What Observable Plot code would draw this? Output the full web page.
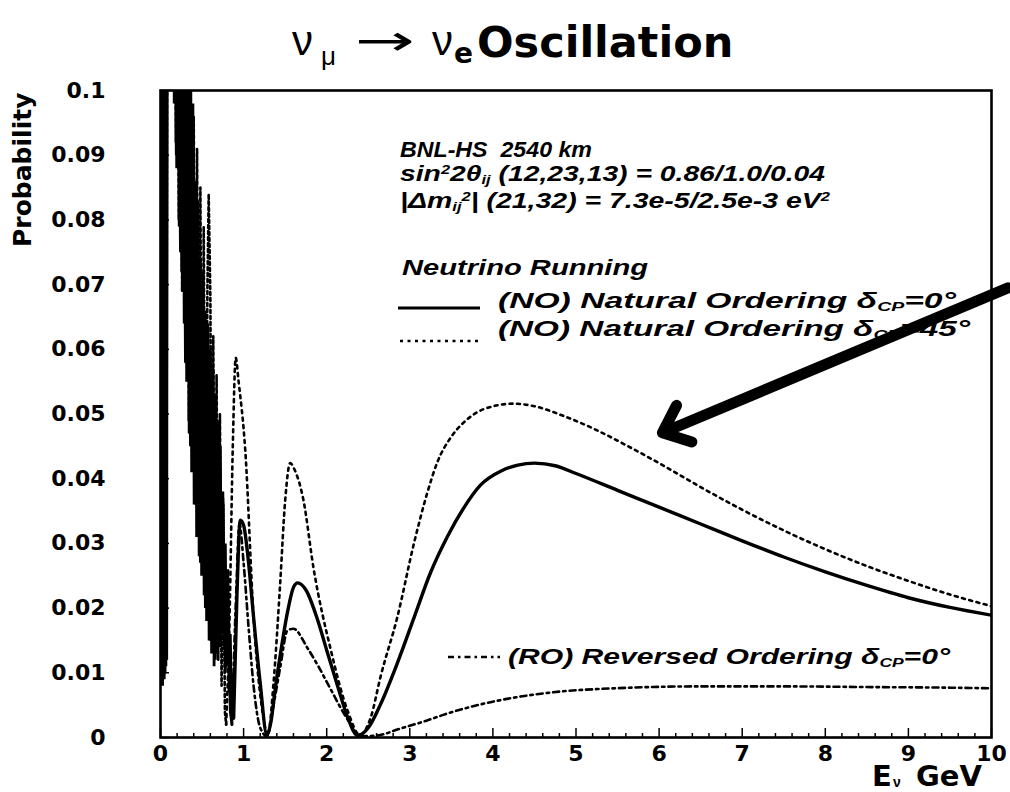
<!DOCTYPE html>
<html><head><meta charset="utf-8">
<script src="https://cdn.jsdelivr.net/npm/d3@7"></script>
<script src="https://cdn.jsdelivr.net/npm/@observablehq/plot@0.6"></script>
<style>
html,body{margin:0;padding:0;background:#fff;}
#wrap{position:relative;width:1010px;height:792px;overflow:hidden;background:#fff;}
#wrap svg{position:absolute;left:0;top:0;}
.t{position:absolute;white-space:nowrap;line-height:1;color:#000;}
.ann{font-family:"Liberation Sans";font-weight:bold;font-style:italic;font-size:22px;transform-origin:0 0;}
.sub{font-size:0.58em;position:relative;top:0.22em;}
.sup{font-size:0.58em;position:relative;top:-0.55em;}
</style></head>
<body><div id="wrap"></div>
<script>
// ---------- data (E in GeV, P probability) ----------
const xTicks = [0,1,2,3,4,5,6,7,8,9,10];
const xMinorTicks = [0.2,0.4,0.6,0.8,1.2,1.4,1.6,1.8,2.2,2.4,2.6,2.8,3.2,3.4,3.6,3.8,4.2,4.4,4.6,4.8,5.2,5.4,5.6,5.8,6.2,6.4,6.6,6.8,7.2,7.4,7.6,7.8,8.2,8.4,8.6,8.8,9.2,9.4,9.6,9.8];
const yTicks = [0,0.01,0.02,0.03,0.04,0.05,0.06,0.07,0.08,0.09,0.1];

// NO, delta_CP = 0 (solid) : fast low-energy oscillation, then smooth part
const no0Low = [[0.000,0.130],[0.005,0.008],[0.010,0.130],[0.015,0.008],[0.020,0.130],[0.025,0.008],[0.030,0.130],[0.035,0.009],[0.040,0.130],[0.045,0.009],[0.050,0.130],[0.055,0.010],[0.060,0.130],[0.065,0.011],[0.070,0.130],[0.075,0.012],[0.080,0.130],[0.120,0.160],[0.160,0.130],
[0.165,0.098],[0.180,0.130],[0.195,0.088],[0.210,0.130],[0.225,0.079],[0.240,0.130],[0.255,0.072],[0.270,0.130],[0.285,0.064],[0.300,0.130],[0.315,0.055],[0.330,0.130],[0.345,0.047],[0.360,0.130],[0.375,0.041],[0.390,0.098],[0.405,0.036],[0.420,0.086],[0.435,0.031],[0.450,0.080],[0.465,0.028],[0.480,0.074],[0.495,0.025],[0.510,0.069],[0.525,0.022],[0.540,0.066],[0.555,0.018],[0.570,0.063],[0.585,0.015],[0.600,0.060],[0.615,0.013],[0.630,0.057],[0.645,0.011],[0.660,0.053],[0.675,0.013],[0.690,0.049],[0.705,0.015],[0.720,0.045],[0.735,0.016],[0.750,0.037],[0.765,0.014],[0.780,0.030],[0.795,0.011],[0.810,0.022],[0.825,0.007],[0.840,0.016],[0.855,0.004],[0.870,0.010],[0.880,0.003]];
const no0High = [[0.880,0.003],[0.920,0.022],[0.960,0.0336],[1.000,0.0328],[1.060,0.027],[1.120,0.0186],[1.200,0.0084],[1.280,0.0004],[1.330,0.0025],[1.380,0.0075],[1.450,0.0135],[1.530,0.0195],[1.600,0.0232],[1.650,0.0239],[1.750,0.0228],[1.890,0.0182],[2.000,0.0135],[2.130,0.0080],[2.250,0.0032],[2.370,0.0003],[2.500,0.0015],[2.650,0.0052],[2.850,0.0115],[3.050,0.0185],[3.250,0.0255],[3.450,0.0310],[3.650,0.0355],[3.850,0.0390],[4.100,0.0412],[4.300,0.0421],[4.500,0.0424],[4.750,0.0420],[5.000,0.0408],[5.500,0.0382],[6.000,0.0356],[6.500,0.0330],[7.000,0.0304],[7.500,0.0279],[8.000,0.0256],[8.500,0.0235],[9.000,0.0216],[9.500,0.0201],[10.00,0.0189]];

// NO, delta_CP = 45 deg (dotted)
const no45Low = [[0.000,0.130],[0.010,0.010],[0.020,0.130],[0.030,0.011],[0.040,0.130],[0.050,0.012],[0.060,0.130],[0.070,0.013],[0.080,0.130],[0.120,0.160],[0.170,0.130],[0.185,0.092],[0.200,0.130],[0.220,0.080],[0.240,0.130],[0.260,0.069],[0.280,0.130],[0.300,0.058],[0.320,0.130],[0.340,0.049],[0.360,0.102],[0.380,0.043],[0.400,0.096],[0.420,0.038],[0.440,0.091],[0.460,0.033],[0.480,0.085],[0.500,0.028],[0.520,0.079],[0.540,0.024],[0.565,0.070],[0.580,0.084],[0.600,0.068],[0.615,0.030],[0.635,0.062],[0.655,0.020],[0.675,0.056],[0.695,0.012],[0.715,0.050],[0.735,0.008],[0.755,0.036],[0.775,0.004],[0.790,0.002]];
const no45High = [[0.790,0.002],[0.830,0.018],[0.870,0.045],[0.905,0.0587],[0.940,0.055],[1.020,0.0444],[1.120,0.0186],[1.240,0.0030],[1.290,0.0003],[1.360,0.0084],[1.440,0.0238],[1.500,0.0366],[1.560,0.0424],[1.620,0.0412],[1.720,0.0367],[1.840,0.0263],[2.050,0.0135],[2.250,0.0042],[2.400,0.0004],[2.530,0.0031],[2.650,0.0095],[2.850,0.0186],[3.050,0.0300],[3.210,0.0378],[3.330,0.0425],[3.500,0.0465],[3.650,0.0487],[3.900,0.0508],[4.250,0.0516],[4.500,0.0512],[4.850,0.0497],[5.200,0.0478],[5.600,0.0452],[6.000,0.0424],[6.500,0.0387],[7.000,0.0352],[7.500,0.0320],[8.000,0.0291],[8.500,0.0265],[9.000,0.0242],[9.500,0.0221],[10.00,0.0203]];

// RO, delta_CP = 0 (dash-dot)
const ro0Low = [[0.000,0.130],[0.010,0.009],[0.020,0.130],[0.030,0.010],[0.040,0.130],[0.050,0.011],[0.060,0.130],[0.070,0.012],[0.080,0.130],[0.120,0.160],[0.170,0.130],[0.190,0.090],[0.210,0.130],[0.240,0.075],[0.270,0.130],[0.300,0.058],[0.330,0.120],[0.360,0.045],[0.390,0.095],[0.420,0.036],[0.450,0.083],[0.480,0.027],[0.510,0.072],[0.540,0.020],[0.570,0.064],[0.600,0.015],[0.630,0.057],[0.660,0.012],[0.690,0.049],[0.720,0.014],[0.750,0.038],[0.780,0.010],[0.810,0.026],[0.840,0.004],[0.860,0.002]];
const ro0High = [[0.860,0.002],[0.910,0.022],[0.950,0.0330],[1.000,0.0270],[1.060,0.0170],[1.120,0.0080],[1.200,0.0015],[1.280,0.0002],[1.360,0.0050],[1.440,0.0108],[1.530,0.0166],[1.600,0.0168],[1.770,0.0138],[1.900,0.0110],[2.050,0.0074],[2.250,0.0028],[2.400,0.0002],[2.600,0.0003],[2.890,0.0014],[3.200,0.0026],[3.450,0.0037],[3.750,0.0048],[4.060,0.0057],[4.660,0.0069],[5.450,0.0076],[6.500,0.0079],[7.500,0.0079],[8.500,0.0078],[9.500,0.0077],[10.00,0.0076]];

// hand-drawn annotation arrow (data units)
const arrowAnnot = [{x1: 10.2, y1: 0.0695, x2: 6.04, y2: 0.0471}];

// texts
const annotationLines = [
  "BNL-HS&nbsp; 2540 km",
  "sin<span class='sup'>2</span>2θ<span class='sub'>ij</span> (12,23,13) = 0.86/1.0/0.04",
  "|Δm<span class='sub'>ij</span><span class='sup'>2</span>| (21,32) = 7.3e-5/2.5e-3 eV<span class='sup'>2</span>",
  "Neutrino Running"
];
const legendLabels = [
  "(NO) Natural Ordering δ<span class='sub'>CP</span>=0°",
  "(NO) Natural Ordering δ<span class='sub'>CP</span>=45°",
  "(RO) Reversed Ordering δ<span class='sub'>CP</span>=0°"
];

// ---------- styles ----------
const SOLID = {stroke: "black", strokeWidth: 3.4};
const DOTTED = {stroke: "black", strokeWidth: 2.6, strokeDasharray: "3,4.5"};
const DASHDOT = {stroke: "black", strokeWidth: 2.6, strokeDasharray: "6,4,2.5,4"};
const FAST = {strokeWidth: 2.8, strokeLinejoin: "miter"};

const pt = {x: d => d[0], y: d => d[1], clip: true};

const chart = Plot.plot({
  width: 1010, height: 792,
  marginLeft: 160, marginRight: 19, marginTop: 90, marginBottom: 55,
  style: {fontFamily: "DejaVu Sans", background: "transparent", color: "black"},
  x: {domain: [0, 10]},
  y: {domain: [0, 0.1]},
  marks: [
    Plot.axisX({ticks: xMinorTicks, tickSize: -4, tickFormat: () => "", label: null, strokeWidth: 1.5}),
    Plot.axisX({ticks: xTicks, tickSize: -9, tickPadding: 17, fontSize: 22, fontWeight: "bold", label: null, strokeWidth: 1.5, tickFormat: d => String(d)}),
    Plot.axisY({ticks: yTicks, tickSize: -9, tickPadding: 64, fontSize: 22, fontWeight: "bold", label: null, strokeWidth: 1.5,
      tickFormat: d => d === 0 ? "0" : String(+d.toFixed(2))}),
    Plot.line(ro0Low, {...pt, ...DASHDOT, ...FAST, strokeDasharray: null}),
    Plot.line(no45Low, {...pt, ...DOTTED, strokeWidth: 2.6, strokeDasharray: "3,3"}),
    Plot.line(no0Low, {...pt, ...SOLID, ...FAST}),
    Plot.line(ro0High, {...pt, ...DASHDOT, curve: "monotone-x"}),
    Plot.line(no45High, {...pt, ...DOTTED, curve: "monotone-x"}),
    Plot.line(no0High, {...pt, ...SOLID, curve: "monotone-x"}),
    Plot.frame({stroke: "black", strokeWidth: 2.6}),
    Plot.arrow(arrowAnnot, {x1: "x1", y1: "y1", x2: "x2", y2: "y2", stroke: "black", strokeWidth: 11, headLength: 4.2, headAngle: 80, bend: 0, strokeLinecap: "round", strokeLinejoin: "round"})
  ]
});

const wrap = document.getElementById("wrap");
wrap.appendChild(chart);

// ---------- overlay texts (title, axis labels, annotation, legend) ----------
function addText(html, left, top, css) {
  const d = document.createElement("div");
  d.className = "t";
  d.innerHTML = html;
  d.style.left = left + "px";
  d.style.top = top + "px";
  Object.assign(d.style, css || {});
  wrap.appendChild(d);
  return d;
}
const sans = "'Liberation Sans'";
const bold = "'DejaVu Sans'";
// title: nu_mu -> nu_e Oscillation
addText("ν", 292, 20, {fontFamily: sans, fontSize: "42px"});
addText("μ", 321, 43, {fontFamily: sans, fontSize: "26px"});
addText("→", 355, 20, {fontFamily: bold, fontSize: "42px", transform: "scaleX(1.7)", transformOrigin: "0 0"});
addText("ν", 432, 20, {fontFamily: sans, fontSize: "42px"});
addText("e", 454, 40, {fontFamily: bold, fontWeight: "bold", fontSize: "28px"});
addText("Oscillation", 477, 21, {fontFamily: bold, fontWeight: "bold", fontSize: "43px"});
// y label
addText("Probability", 10, 247, {fontFamily: bold, fontWeight: "bold", fontSize: "25px", lineHeight: "25px", transform: "rotate(-90deg)", transformOrigin: "0 0"});
// x label
addText("E", 872, 762, {fontFamily: bold, fontWeight: "bold", fontSize: "29px"});
addText("ν", 893, 775, {fontFamily: sans, fontWeight: "bold", fontSize: "14px"});
addText("GeV", 916, 762, {fontFamily: bold, fontWeight: "bold", fontSize: "29px"});

// annotation block: each line stretched to the width it has in the reference
function fitText(html, left, top, width) {
  const d = addText(html, left, top);
  d.classList.add("ann");
  const w = d.getBoundingClientRect().width;
  d.style.transform = `scaleX(${width / w})`;
  return d;
}
const annLayout = [[400, 139, 192], [400, 163, 425], [400, 190, 430], [402, 257, 246]];
annotationLines.forEach((s, i) => fitText(s, ...annLayout[i]));
const legLayout = [[498, 290, 458], [498, 318, 472], [508, 646, 442]];
legendLabels.forEach((s, i) => fitText(s, ...legLayout[i]));

// legend samples
const ov = d3.select(wrap).append("svg").attr("width", 1010).attr("height", 792).style("pointer-events", "none");
const samples = [
  {x1: 398, x2: 480, y: 308, w: 2.8, dash: null},
  {x1: 400, x2: 482, y: 341, w: 2.4, dash: "3,4.5"},
  {x1: 448, x2: 500, y: 657, w: 2.4, dash: "6,4,2.5,4"}
];
samples.forEach(s => ov.append("line").attr("x1", s.x1).attr("x2", s.x2).attr("y1", s.y).attr("y2", s.y)
  .attr("stroke", "black").attr("stroke-width", s.w).attr("stroke-dasharray", s.dash));
</script></body></html>
